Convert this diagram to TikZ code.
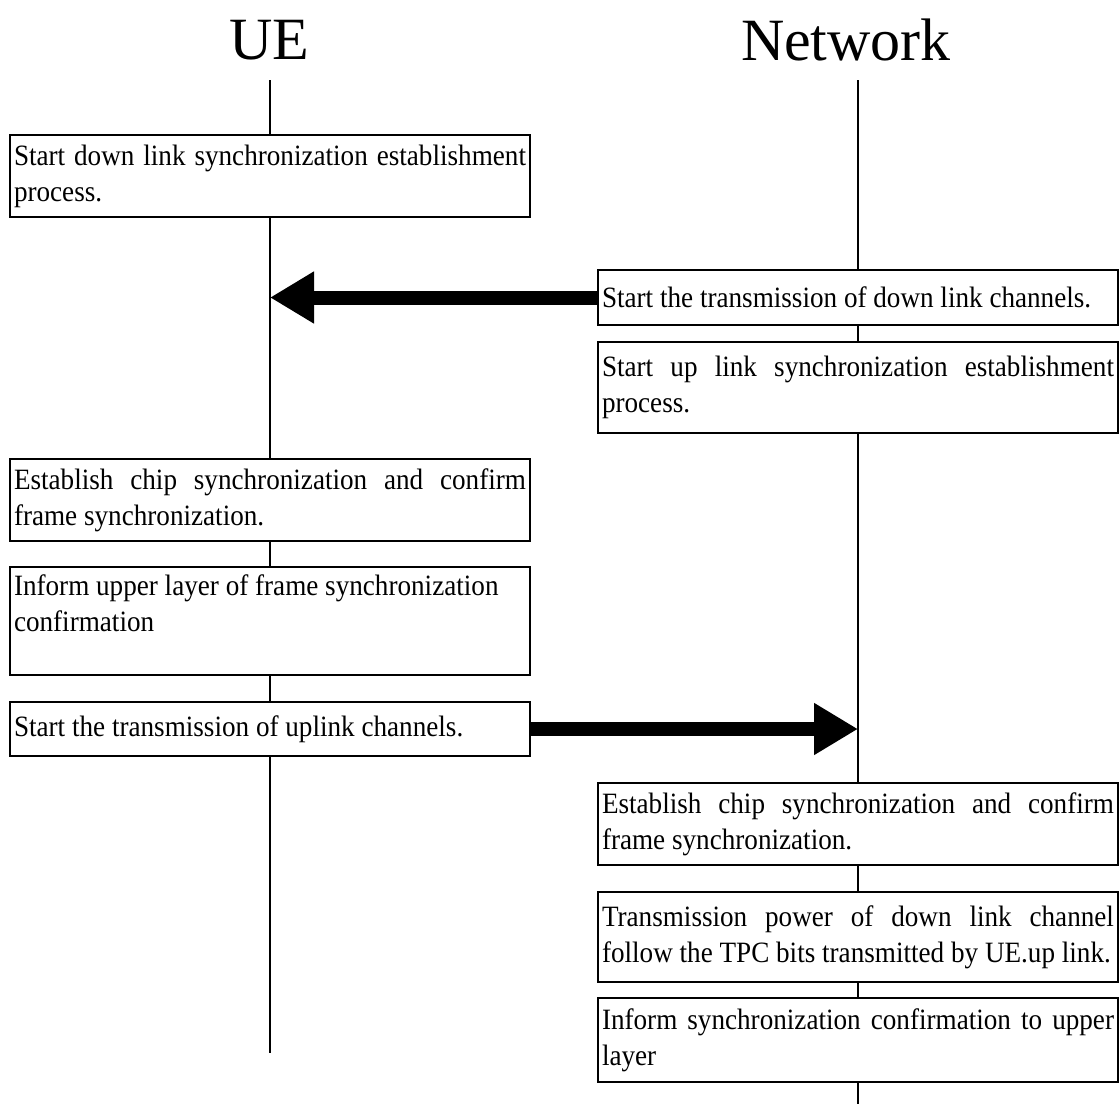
\documentclass[tikz,border=0pt]{standalone}
\usepackage{fontspec}
\setmainfont{Liberation Serif}
\newfontfamily\boxfont[FakeStretch=0.92]{Liberation Serif}
\usetikzlibrary{arrows.meta,positioning}

\begin{document}
\begin{tikzpicture}[x=1pt,y=-1pt]
\tikzstyle{every node}+=[inner sep=0pt]
\tikzstyle{entity}=[font=\fontsize{60}{66}\selectfont]
\tikzstyle{stepbox}=[draw=black, line width=1.6pt, fill=white, text width=512pt, inner xsep=4pt, align=justify, font=\boxfont\fontsize{29.5}{36}\selectfont]
\tikzstyle{life}=[line width=1.4pt]
\tikzstyle{msg}=[line width=14pt, -{Triangle[length=44pt,width=49pt]}]
\useasboundingbox (0,0) rectangle (1120,1104);
% entities and lifelines
\node[entity] (ue) at (269,40) {UE};
\node[entity] (net) at (846,40) {Network};
\coordinate (ue top) at (270,80);
\coordinate (ue end) at (270,1053);
\coordinate (net top) at (858,80);
\coordinate (net end) at (858,1104);
% UE side
\node[stepbox, minimum height=82pt] (l1) at (270,176) {Start down link synchronization establishment\linebreak process.};
\node[stepbox, minimum height=82pt] (l2) at (270,500) {Establish chip synchronization and confirm\linebreak frame synchronization.};
\node[stepbox, minimum height=108pt] (l3) at (270,621) {Inform upper layer of frame synchronization\\confirmation\\\mbox{}};
\node[stepbox, minimum height=54pt] (l4) at (270,729) {Start the transmission of uplink channels.};
% network side
\node[stepbox, minimum height=55pt] (r1) at (858,297.5) {Start the transmission of down link channels.};
\node[stepbox, minimum height=91pt] (r2) at (858,387.5) {Start up link synchronization establishment\linebreak process.};
\node[stepbox, minimum height=82pt] (r4) at (858,824) {Establish chip synchronization and confirm\linebreak frame synchronization.};
\node[stepbox, minimum height=90pt] (r5) at (858,937) {Transmission power of down link channel\linebreak follow the TPC bits transmitted by UE.up link.};
\node[stepbox, minimum height=84pt] (r6) at (858,1040) {Inform synchronization confirmation to upper\linebreak layer};
% lifeline pieces
\draw[life] (ue top) -- (l1.north);
\draw[life] (l1.south) -- (l2.north);
\draw[life] (l2.south) -- (l3.north);
\draw[life] (l3.south) -- (l4.north);
\draw[life] (l4.south) -- (ue end);
\draw[life] (net top) -- (r1.north);
\draw[life] (r1.south) -- (r2.north);
\draw[life] (r2.south) -- (r4.north);
\draw[life] (r4.south) -- (r5.north);
\draw[life] (r5.south) -- (r6.north);
\draw[life] (r6.south) -- (net end);
% messages
\draw[msg] (r1.west) -- (r1.west -| ue top);
\draw[msg] (l4.east) -- (l4.east -| net top);
\end{tikzpicture}
\end{document}
